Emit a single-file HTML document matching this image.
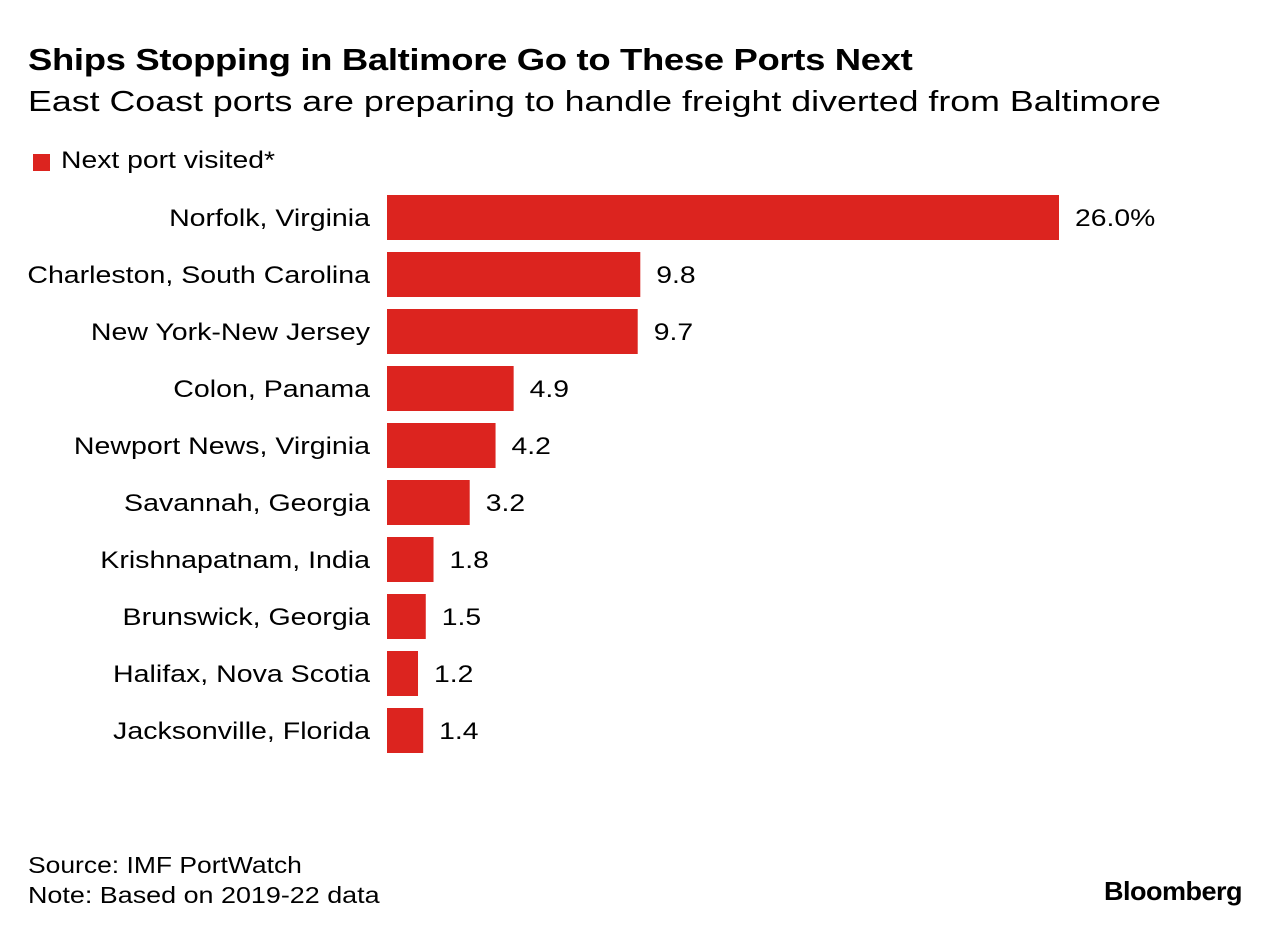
<!DOCTYPE html>
<html><head><meta charset="utf-8">
<style>
body{margin:0;width:1282px;height:936px;background:#fff;font-family:"Liberation Sans",sans-serif;color:#000;overflow:hidden;position:relative}
.t{position:absolute;white-space:nowrap;transform-origin:0 0}
</style></head><body>
<div class="t" style="left:28px;top:42px;font-size:31px;font-weight:bold;letter-spacing:-0.3px;transform:scaleX(1.177)">Ships Stopping in Baltimore Go to These Ports Next</div>
<div class="t" style="left:28px;top:86px;font-size:29px;transform:scaleX(1.233)">East Coast ports are preparing to handle freight diverted from Baltimore</div>
<div style="position:absolute;left:33px;top:154px;width:17px;height:17px;background:#dc241f"></div>
<div class="t" style="left:61px;top:147px;font-size:24px;transform:scaleX(1.18)">Next port visited*</div>
<svg id="chart" width="1282" height="800" style="position:absolute;left:0;top:0"></svg>
<div class="t" style="left:28px;top:852px;font-size:23px;transform:scaleX(1.15)">Source: IMF PortWatch</div>
<div class="t" style="left:28px;top:882px;font-size:23px;transform:scaleX(1.17)">Note: Based on 2019-22 data</div>
<div class="t" style="left:1104px;top:876px;font-size:26px;font-weight:bold;letter-spacing:-0.5px;transform:scaleX(1.04)">Bloomberg</div>
<script>
const categories=["Norfolk, Virginia","Charleston, South Carolina","New York-New Jersey","Colon, Panama","Newport News, Virginia","Savannah, Georgia","Krishnapatnam, India","Brunswick, Georgia","Halifax, Nova Scotia","Jacksonville, Florida"];
const values=[26.0,9.8,9.7,4.9,4.2,3.2,1.8,1.5,1.2,1.4];
const valueLabels=["26.0%","9.8","9.7","4.9","4.2","3.2","1.8","1.5","1.2","1.4"];
const svg=document.getElementById('chart');
const NS='http://www.w3.org/2000/svg';
const x0=387,pxPerUnit=672/26;
function xScale(v){return x0+v*pxPerUnit;}
function yScale(i){return 195+i*57;}
categories.forEach((c,i)=>{
  const y=yScale(i),w=xScale(values[i])-x0;
  const r=document.createElementNS(NS,'rect');
  r.setAttribute('x',x0);r.setAttribute('y',y);r.setAttribute('width',w);r.setAttribute('height',45);r.setAttribute('fill','#dc241f');
  
  
  svg.appendChild(r);
  const l=document.createElementNS(NS,'text');
  l.setAttribute('transform','translate(370,'+(y+31)+') scale(1.19,1)');
  l.setAttribute('text-anchor','end');l.setAttribute('font-size','24');l.setAttribute('font-family','Liberation Sans, sans-serif');
  l.textContent=c;
  
  
  svg.appendChild(l);
  const v=document.createElementNS(NS,'text');
  v.setAttribute('transform','translate('+(xScale(values[i])+16)+','+(y+31)+') scale(1.18,1)');
  v.setAttribute('font-size','24');v.setAttribute('font-family','Liberation Sans, sans-serif');
  v.textContent=valueLabels[i];
  
  
  svg.appendChild(v);
});
</script>
</body></html>
